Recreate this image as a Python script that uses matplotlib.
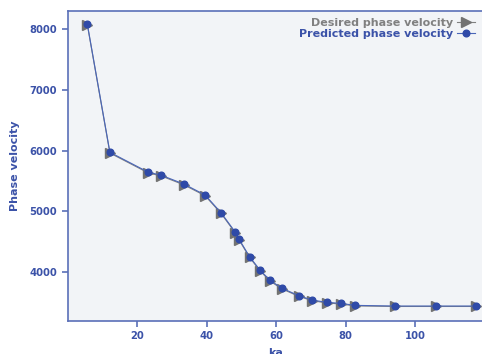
import matplotlib
matplotlib.use("Agg")
import matplotlib.pyplot as plt

# ka values (shared by both series)
ka = [5.7, 12.2, 23.3, 26.8, 33.5, 39.6, 44.2, 48.2, 49.4, 52.4, 55.4,
      58.2, 61.6, 66.6, 70.4, 74.6, 78.6, 82.8, 94.2, 106.0, 117.6]

desired = [8080, 5960, 5630, 5585, 5435, 5255, 4962, 4648, 4522, 4236, 4016,
           3850, 3720, 3593, 3523, 3485, 3468, 3436, 3427, 3427, 3427]
predicted = [8091, 5972, 5642, 5597, 5448, 5267, 4974, 4661, 4535, 4248, 4028,
             3863, 3731, 3604, 3533, 3495, 3478, 3445, 3434, 3434, 3434]

x_ticks = [20, 40, 60, 80, 100]
y_ticks = [4000, 5000, 6000, 7000, 8000]

BLUE = "#3b52a8"
SPINE = "#5a6fb8"
GREY = "#808080"

W, H = 482, 354
fig = plt.figure(figsize=(W / 100, H / 100), dpi=100)
ax = fig.add_axes([67.5 / W, (H - 321) / H, (484.5 - 67.5) / W, (321 - 10.7) / H])
ax.set_facecolor("#f2f4f7")

ax.plot(ka, desired, color=GREY, lw=0.8, marker=">", ms=7.2,
        mfc="#727272", mec="#727272", label="Desired phase velocity", zorder=2)
ax.plot(ka, predicted, color="#4a66b8", lw=0.8, marker="o", ms=4.8,
        mfc="#2f4aa8", mec="#2f4aa8", label="Predicted phase velocity", zorder=3)

ax.set_xlim(0, 120)
ax.set_ylim(3187, 8310)
ax.set_xticks(x_ticks)
ax.set_yticks(y_ticks)

for s in ax.spines.values():
    s.set_color(SPINE)
    s.set_linewidth(1.2)
ax.tick_params(colors=SPINE, length=4, width=1.2, labelcolor=BLUE, labelsize=7.2)
for lab in ax.get_xticklabels() + ax.get_yticklabels():
    lab.set_fontweight("bold")

ax.set_xlabel("ka", color=BLUE, fontsize=8, fontweight="bold", labelpad=5)
ax.set_ylabel("Phase velocity", color=BLUE, fontsize=8, fontweight="bold", labelpad=7)

leg = ax.legend(loc="upper right", bbox_to_anchor=(0.995, 1.0), frameon=False,
                markerfirst=False, fontsize=8, handlelength=1.6,
                handletextpad=0.4, labelspacing=0.1, borderaxespad=0.25)
for txt, c in zip(leg.get_texts(), [GREY, BLUE]):
    txt.set_color(c)
    txt.set_fontweight("bold")

fig.savefig("out.png", dpi=100)
